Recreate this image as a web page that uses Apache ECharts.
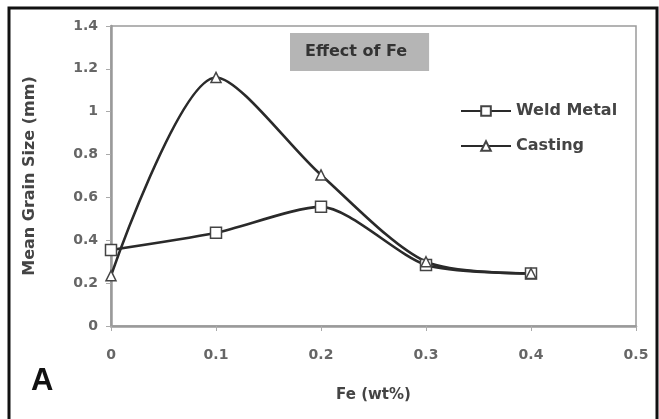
<!DOCTYPE html>
<html>
<head>
<meta charset="utf-8">
<script src="https://cdn.jsdelivr.net/npm/echarts@6/dist/echarts.min.js"></script>
<style>
  html, body { margin: 0; padding: 0; background: #fff; }
  #chart { width: 659px; height: 419px; }
</style>
</head>
<body>
<div id="chart"></div>
<script>
// Fe content (wt%)
var feLevels = [0, 0.1, 0.2, 0.3, 0.4]
var weldMetal = [0.355, 0.435, 0.556, 0.285, 0.245]
var casting = [0.235, 1.16, 0.705, 0.30, 0.245]

var chart = echarts.init(document.getElementById('chart'))
var font = 'DejaVu Sans, Verdana, sans-serif'

function toPairs(xs, ys) {
  return xs.map(function (x, i) { return [x, ys[i]] })
}

var option = {
  backgroundColor: '#fff',
  animation: false,
  title: {
    text: 'Effect of Fe',
    left: 290,
    top: 33,
    backgroundColor: '#b5b5b5',
    padding: [11, 22, 11, 15],
    textStyle: { fontFamily: font, fontSize: 16, fontWeight: 'bold', color: '#333' }
  },
  legend: {
    orient: 'vertical',
    left: 455,
    top: 98,
    itemGap: 19,
    itemWidth: 50,
    itemHeight: 12,
    data: ['Weld Metal', 'Casting'],
    textStyle: { fontFamily: font, fontSize: 16, fontWeight: 'bold', color: '#444' }
  },
  grid: {
    left: 111, right: 23, top: 26, bottom: 93,
    show: true, borderColor: '#9a9a9a', borderWidth: 1.5
  },
  xAxis: {
    type: 'value',
    min: 0, max: 0.5, interval: 0.1,
    name: 'Fe (wt%)',
    nameLocation: 'middle',
    nameGap: 62,
    nameTextStyle: { fontFamily: font, fontSize: 15, fontWeight: 'bold', color: '#444' },
    axisLine: { show: true, lineStyle: { color: '#9a9a9a', width: 2.5 } },
    axisTick: { show: true, inside: false, length: 5, lineStyle: { color: '#aaa' } },
    axisLabel: { fontFamily: font, fontSize: 14, fontWeight: 'bold', color: '#666', margin: 22 },
    splitLine: { show: false }
  },
  yAxis: {
    type: 'value',
    min: 0, max: 1.4, interval: 0.2,
    name: 'Mean Grain Size (mm)',
    nameLocation: 'middle',
    nameGap: 73,
    nameTextStyle: { fontFamily: font, fontSize: 16, fontWeight: 'bold', color: '#444' },
    axisLine: { show: true, lineStyle: { color: '#9a9a9a', width: 2.5 } },
    axisTick: { show: true, length: 5, lineStyle: { color: '#aaa' } },
    axisLabel: { fontFamily: font, fontSize: 14, fontWeight: 'bold', color: '#666', margin: 13 },
    splitLine: { show: false }
  },
  series: [
    {
      name: 'Weld Metal',
      type: 'line',
      smooth: 0.25,
      data: toPairs(feLevels, weldMetal),
      symbol: 'rect',
      symbolSize: 11,
      lineStyle: { color: '#2a2a2a', width: 2.6 },
      itemStyle: { color: '#fff', borderColor: '#444', borderWidth: 1.5 }
    },
    {
      name: 'Casting',
      type: 'line',
      smooth: 0.28,
      data: toPairs(feLevels, casting),
      symbol: 'triangle',
      symbolSize: 10,
      lineStyle: { color: '#2a2a2a', width: 2.6 },
      itemStyle: { color: '#fff', borderColor: '#444', borderWidth: 1.5 }
    }
  ],
  graphic: [
    {
      type: 'polyline',
      shape: { points: [[9, 419], [9, 8], [657, 8], [657, 419]] },
      style: { stroke: '#111', lineWidth: 3, fill: null }
    },
    {
      type: 'text',
      left: 31,
      top: 366,
      style: { text: 'A', fontFamily: 'Liberation Sans, Arial, sans-serif', fontSize: 31, fontWeight: 'bold', fill: '#111' }
    }
  ]
}

chart.setOption(option)
</script>
</body>
</html>
